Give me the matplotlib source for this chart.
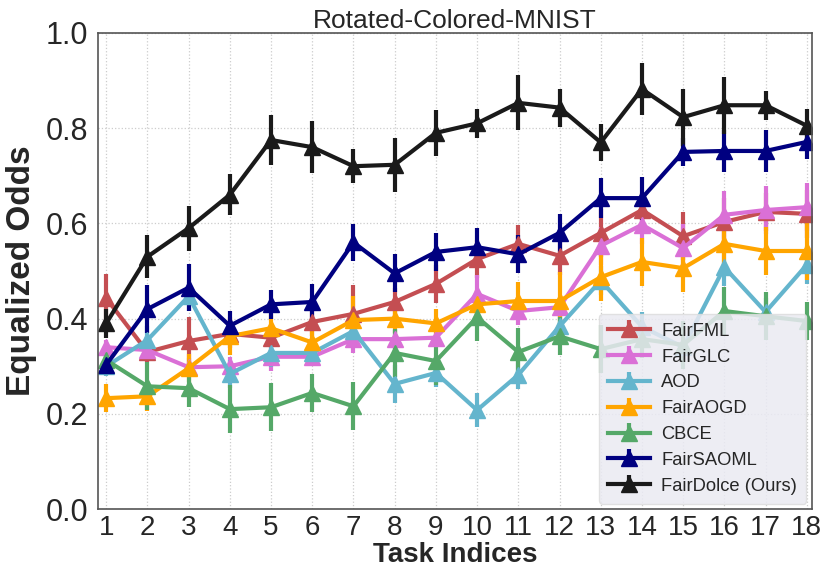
import matplotlib
matplotlib.use("Agg")
import matplotlib.pyplot as plt
import numpy as np

plt.rcParams['font.family'] = ['Liberation Sans', 'DejaVu Sans']
plt.rcParams['text.color'] = '#262626'
plt.rcParams['axes.labelcolor'] = '#262626'
plt.rcParams['xtick.color'] = '#262626'
plt.rcParams['ytick.color'] = '#262626'

tasks = np.arange(1, 19)

fairfml = [0.443, 0.330, 0.353, 0.368, 0.360, 0.393, 0.410, 0.435, 0.473, 0.525, 0.557, 0.532, 0.580, 0.628, 0.573, 0.603, 0.624, 0.620]
fairfml_err = [0.05, 0.02, 0.05, 0.03, 0.02, 0.03, 0.06, 0.03, 0.04, 0.04, 0.04, 0.04, 0.05, 0.035, 0.05, 0.05, 0.04, 0.05]

fairglc = [0.340, 0.334, 0.298, 0.300, 0.320, 0.320, 0.357, 0.357, 0.360, 0.452, 0.416, 0.424, 0.553, 0.597, 0.548, 0.618, 0.628, 0.634]
fairglc_err = [0.015, 0.02, 0.02, 0.02, 0.03, 0.02, 0.03, 0.02, 0.02, 0.04, 0.03, 0.02, 0.04, 0.04, 0.05, 0.05, 0.05, 0.05]

aod = [0.300, 0.355, 0.447, 0.284, 0.328, 0.328, 0.374, 0.263, 0.286, 0.208, 0.282, 0.384, 0.480, 0.383, 0.340, 0.508, 0.414, 0.513]
aod_err = [0.02, 0.03, 0.03, 0.03, 0.03, 0.02, 0.03, 0.04, 0.03, 0.035, 0.03, 0.03, 0.03, 0.03, 0.04, 0.04, 0.03, 0.04]

fairaogd = [0.233, 0.237, 0.296, 0.363, 0.380, 0.350, 0.397, 0.400, 0.390, 0.430, 0.437, 0.437, 0.487, 0.519, 0.506, 0.557, 0.542, 0.542]
fairaogd_err = [0.03, 0.03, 0.03, 0.04, 0.03, 0.03, 0.05, 0.03, 0.03, 0.03, 0.04, 0.06, 0.05, 0.05, 0.05, 0.05, 0.05, 0.06]

cbce = [0.313, 0.258, 0.254, 0.210, 0.214, 0.244, 0.216, 0.328, 0.311, 0.403, 0.330, 0.363, 0.336, 0.357, 0.345, 0.416, 0.405, 0.395]
cbce_err = [0.02, 0.05, 0.04, 0.05, 0.05, 0.04, 0.05, 0.05, 0.05, 0.05, 0.05, 0.04, 0.05, 0.04, 0.05, 0.05, 0.05, 0.04]

fairsaoml = [0.303, 0.420, 0.465, 0.385, 0.430, 0.435, 0.560, 0.495, 0.540, 0.550, 0.535, 0.580, 0.653, 0.653, 0.750, 0.752, 0.752, 0.771]
fairsaoml_err = [0.02, 0.05, 0.05, 0.03, 0.03, 0.037, 0.038, 0.04, 0.04, 0.04, 0.04, 0.04, 0.042, 0.045, 0.03, 0.045, 0.045, 0.035]

fairdolce = [0.390, 0.530, 0.590, 0.660, 0.775, 0.760, 0.720, 0.723, 0.790, 0.810, 0.853, 0.843, 0.770, 0.882, 0.823, 0.848, 0.848, 0.805]
fairdolce_err = [0.03, 0.045, 0.047, 0.043, 0.053, 0.055, 0.036, 0.057, 0.049, 0.031, 0.058, 0.04, 0.039, 0.055, 0.06, 0.06, 0.03, 0.036]

series = [
    ("FairFML", fairfml, fairfml_err, "#c44e52"),
    ("FairGLC", fairglc, fairglc_err, "#da70d6"),
    ("AOD", aod, aod_err, "#64b5cd"),
    ("FairAOGD", fairaogd, fairaogd_err, "#ffa500"),
    ("CBCE", cbce, cbce_err, "#55a868"),
    ("FairSAOML", fairsaoml, fairsaoml_err, "#000080"),
    ("FairDolce (Ours)", fairdolce, fairdolce_err, "#1a1a1a"),
]

fig = plt.figure(figsize=(8.3, 5.76), dpi=100)
ax = fig.add_axes([0.118, 0.116, 0.860, 0.827])

for name, vals, errs, col in series:
    ax.errorbar(tasks, vals, yerr=errs, color=col, marker='^', markersize=12,
                linewidth=3, elinewidth=3, capsize=0, label=name)

ax.set_xlim(0.8, 18.12)
ax.set_ylim(0.0, 1.0)
ax.set_xticks(tasks)
ax.set_yticks(np.arange(0, 1.01, 0.2))
ax.set_yticklabels(["0.0", "0.2", "0.4", "0.6", "0.8", "1.0"])
ax.tick_params(axis='y', labelsize=22, length=0, pad=7)
ax.tick_params(axis='x', labelsize=20, length=0, pad=4)
ax.grid(True, color='#cccccc', linestyle=':', linewidth=0.9)
for s in ax.spines.values():
    s.set_color('#555555')
    s.set_linewidth(1.2)

ax.set_xlabel("Task Indices", fontsize=20, fontweight='bold', labelpad=1)
ax.set_ylabel("Equalized Odds", fontsize=24, fontweight='bold', labelpad=6)
ax.set_title("Rotated-Colored-MNIST", fontsize=19, pad=3)

leg = ax.legend(loc='lower right', fontsize=13.2, facecolor='#eaeaf2', framealpha=0.85,
                edgecolor='#dddddd', handlelength=2.3, handletextpad=0.6,
                borderpad=0.5, labelspacing=0.48, borderaxespad=0.3)

fig.savefig("out.png", dpi=100)
